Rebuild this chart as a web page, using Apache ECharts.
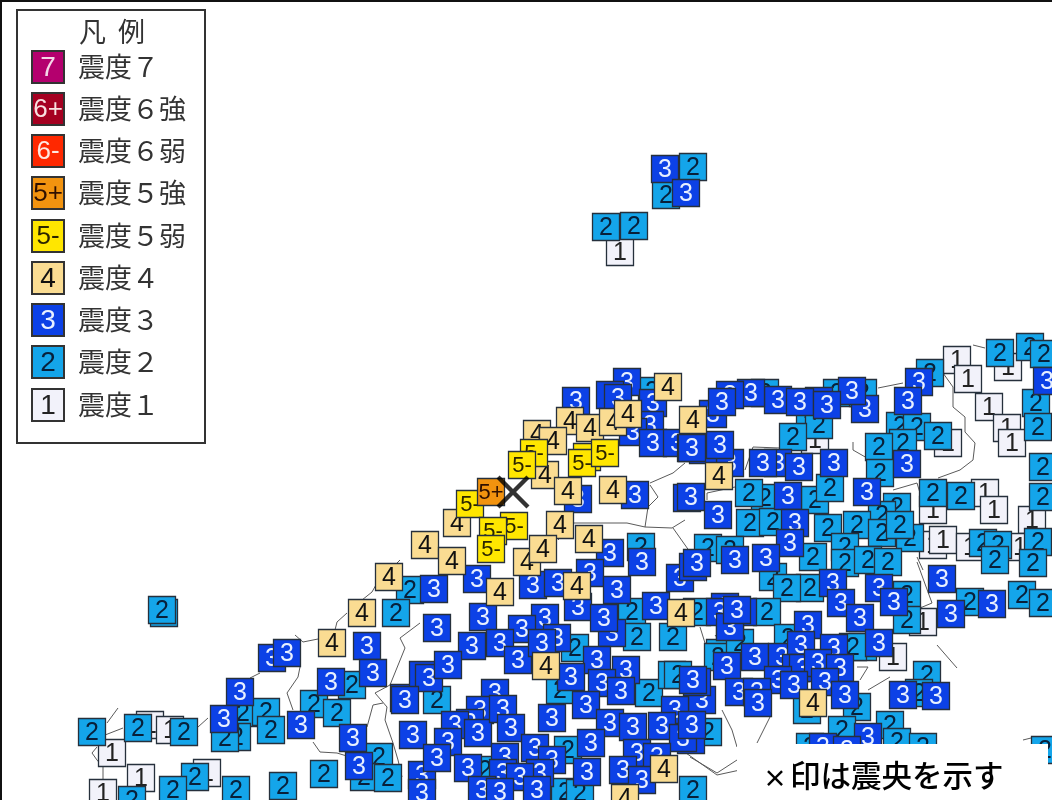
<!DOCTYPE html>
<html><head><meta charset="utf-8">
<style>html,body{margin:0;padding:0;background:#fff}#c{width:1052px;height:800px}</style>
<script src="https://cdn.jsdelivr.net/npm/echarts@6/dist/echarts.min.js"></script>
</head><body><div id="c"></div>
<script>
const legendTitle = '凡  例';
const legendCodes = ['7','6+','6-','5+','5-','4','3','2','1'];
const legendNames = ['震度７','震度６強','震度６弱','震度５強','震度５弱','震度４','震度３','震度２','震度１'];
const noteMark = '×';
const noteText = '印は震央を示す';
const epicenter = [[513,492]];

const level1 = [[620,252],[957,360],[968,379],[1008,367],[989,407],[815,440],[948,443],[1007,428],[1012,443],[985,493],[994,510],[933,510],[1032,520],[933,545],[943,540],[970,547],[1020,547],[923,622],[893,657],[150,725],[170,730],[112,753],[141,778],[207,773],[103,793]];
const level2 = [[693,167],[666,195],[606,227],[634,226],[164,613],[162,610],[1000,353],[1030,347],[1044,354],[930,373],[837,393],[863,393],[765,393],[652,391],[810,423],[819,425],[793,437],[900,426],[917,427],[903,443],[879,447],[938,436],[1036,403],[1038,427],[1043,467],[1043,497],[880,473],[765,498],[749,493],[815,500],[830,488],[933,493],[961,496],[897,507],[882,515],[828,528],[857,525],[882,533],[910,538],[900,525],[750,523],[773,522],[845,547],[813,557],[845,563],[868,560],[888,562],[983,543],[998,545],[995,560],[1038,542],[1033,563],[708,548],[730,550],[641,547],[410,590],[396,613],[352,685],[243,713],[266,712],[271,730],[237,737],[225,738],[314,704],[337,713],[379,757],[364,777],[388,778],[324,774],[283,786],[236,790],[195,777],[173,790],[92,732],[138,728],[184,732],[132,800],[632,612],[697,612],[673,637],[637,637],[575,648],[649,693],[672,675],[678,675],[720,653],[437,700],[560,690],[708,732],[568,750],[485,770],[565,792],[580,793],[693,790],[970,602],[1022,595],[1043,603],[810,588],[773,577],[787,588],[907,595],[907,620],[767,612],[863,647],[853,647],[718,657],[740,643],[788,638],[807,710],[857,707],[927,675],[919,693],[842,730],[890,725],[897,742],[923,747],[810,747],[1045,750]];
const level3 = [[665,169],[686,193],[576,401],[627,382],[610,395],[618,398],[653,403],[650,425],[633,432],[653,443],[677,443],[691,448],[635,495],[687,498],[578,499],[610,553],[642,562],[680,578],[693,567],[477,579],[434,589],[533,585],[558,583],[590,573],[617,590],[272,658],[287,653],[367,646],[331,682],[373,673],[240,692],[404,698],[224,719],[301,725],[353,738],[413,735],[359,766],[422,775],[919,382],[1047,381],[908,401],[865,409],[852,391],[819,401],[778,400],[751,393],[730,395],[713,414],[722,402],[800,402],[827,405],[907,464],[834,463],[778,463],[799,467],[763,463],[730,463],[703,450],[692,448],[720,445],[788,496],[691,497],[867,492],[718,515],[795,523],[790,543],[735,560],[766,558],[697,563],[942,579],[992,604],[833,583],[879,588],[894,602],[841,603],[860,618],[951,614],[879,643],[808,625],[743,612],[730,625],[725,607],[755,657],[727,666],[782,657],[801,645],[834,648],[796,668],[803,668],[818,663],[840,668],[778,680],[794,685],[825,682],[739,692],[757,692],[758,703],[702,700],[697,682],[845,695],[903,695],[936,696],[868,737],[823,747],[847,750],[691,740],[578,607],[612,633],[604,618],[656,606],[483,617],[545,618],[522,629],[437,628],[472,646],[500,643],[518,660],[557,638],[542,643],[597,660],[626,670],[571,677],[602,683],[621,691],[693,680],[720,612],[730,627],[737,610],[675,710],[423,675],[429,678],[448,665],[586,705],[552,718],[610,723],[633,727],[662,726],[683,738],[692,725],[591,743],[637,753],[623,770],[657,757],[642,780],[587,772],[405,700],[495,693],[480,710],[470,723],[455,725],[478,733],[503,709],[511,728],[448,742],[437,758],[468,768],[505,757],[503,773],[535,748],[552,760],[540,773],[520,777],[537,790],[482,790],[500,792],[422,793]];
const level4 = [[668,387],[570,421],[590,428],[613,422],[628,414],[537,434],[553,441],[693,420],[545,475],[568,491],[613,490],[457,523],[560,525],[589,539],[527,562],[543,549],[425,545],[452,561],[389,577],[500,592],[577,586],[362,613],[332,643],[719,476],[681,613],[546,666],[664,769],[625,798],[813,703]];
const level5m = [[587,457],[534,453],[522,465],[582,463],[605,453],[470,504],[514,526],[493,531],[491,549]];
const level5p = [[491,492]];

const borders = [
 [[400,560],[377,583],[372,592],[362,600]],[[347,613],[337,622],[335,630]],[[318,639],[303,642],[295,635]],[[300,667],[298,677],[287,693],[293,710]],[[260,673],[250,678]],[[208,718],[198,727]],[[123,728],[105,735]],[[118,708],[107,723]],[[97,747],[92,753],[97,760],[103,767],[103,780]],
 [[313,742],[320,752],[337,753],[350,757]],[[375,693],[387,707],[385,720],[393,743],[398,760],[402,777]],[[420,623],[400,638],[405,648],[390,685],[375,693]],[[367,727],[373,705],[383,703]],
 [[650,485],[658,497],[648,507],[645,527],[672,528],[685,520]],[[685,463],[673,473],[650,483]],[[573,523],[603,523],[627,523],[645,527]],[[558,540],[573,525]],[[673,528],[690,552]],
 [[735,487],[707,493],[707,500]],[[753,447],[745,470]],[[753,447],[780,448]],[[853,442],[853,450],[867,458]],[[878,388],[903,383]],[[943,373],[953,387],[953,407],[965,417],[965,432],[975,443],[973,460],[960,470],[938,478]],[[893,490],[917,483],[920,493]],[[973,345],[985,348]],[[917,557],[923,570]],
 [[937,645],[957,668]],[[917,562],[932,603],[920,608]],[[857,667],[868,667],[860,680]],[[890,677],[868,690]],[[770,717],[757,743]],[[690,757],[717,773],[737,760]],[[700,627],[705,643]],[[722,710],[732,730],[737,747]],[[1023,740],[1035,737]],[[690,550],[700,565]],[[715,635],[735,660]],[[686,753],[717,775],[740,770]]
];

const colors = {
  '7':['#b4006e','#f4d8e8'],'6+':['#a50021','#f8e0e0'],'6-':['#ff2800','#ffe8e0'],
  '5+':['#f2930f','#301000'],'5-':['#ffe600','#2a2400'],'4':['#fadc92','#111'],
  '3':['#0c41e6','#e8f0ff'],'2':['#14a5ea','#08203a'],'1':['#f2f2fa','#222']
};
const digitFont = '"Liberation Sans Narrow","Liberation Sans",Arial,sans-serif';

function marks(name, data, code, z, size){
  return {
    type:'custom', name, coordinateSystem:'cartesian2d', z, silent:true, clip:false,
    data, encode:{x:0,y:1},
    renderItem(params, api){
      const p = api.coord([api.value(0), api.value(1)]);
      const s = size;
      const fs = code.length>1 ? 22 : 25;
      return {type:'group', children:[
        {type:'rect', shape:{x:p[0]-s/2,y:p[1]-s/2,width:s,height:s},
         style:{fill:colors[code][0],stroke:'#26303c',lineWidth:1.3}},
        {type:'text', style:{x:p[0],y:p[1]+1,text:code,fill:colors[code][1],
          font:fs+'px '+digitFont,textAlign:'center',textVerticalAlign:'middle'}}
      ]};
    }
  };
}

const legendY = [67,109,151,193,236,278,320,362,405];
const legendData = legendCodes.map((c,i)=>[48,legendY[i],c,legendNames[i]]);

const series = [];
borders.forEach(b=>series.push({type:'line',data:b,symbol:'none',silent:true,z:1,
  lineStyle:{color:'#5a5a5a',width:1}}));
series.push(marks('震度1',level1,'1',2,27));
series.push(marks('震度2',level2,'2',3,27));
series.push(marks('震度3',level3,'3',4,27));
series.push(marks('震度4',level4,'4',5,27));
series.push(marks('震度5弱',level5m,'5-',6,27));
series.push(marks('震度5強',level5p,'5+',7,27));
series.push({type:'scatter',data:epicenter,z:8,silent:true,symbolSize:33,itemStyle:{color:'#000'},
  symbol:'path://M0,2.8L2.8,0L15,12.2L27.2,0L30,2.8L17.8,15L30,27.2L27.2,30L15,17.8L2.8,30L0,27.2L12.2,15Z'});
series.push({type:'custom',name:'凡例',z:21,silent:true,data:legendData,clip:false,encode:{x:0,y:1},
  renderItem(params,api){
    const p = api.coord([api.value(0),api.value(1)]);
    const c = legendData[params.dataIndex][2], n = legendData[params.dataIndex][3];
    return {type:'group',children:[
      {type:'rect',shape:{x:p[0]-16,y:p[1]-16,width:32,height:32},
       style:{fill:colors[c][0],stroke:'#333',lineWidth:2}},
      {type:'text',style:{x:p[0],y:p[1]+1,text:c,fill:colors[c][1],
        font:(c.length>1?26:28)+'px '+digitFont,textAlign:'center',textVerticalAlign:'middle'}},
      {type:'text',style:{x:78,y:p[1],text:n,fill:'#333',
        font:'27px "Noto Sans CJK JP",sans-serif',textAlign:'left',textVerticalAlign:'middle'}}
    ]};
  }});

const chart = echarts.init(document.getElementById('c'),null,{renderer:'canvas'});
chart.setOption({
  animation:false,
  backgroundColor:'#fff',
  grid:{left:0,right:0,top:0,bottom:0},
  xAxis:{type:'value',min:0,max:1052,show:false},
  yAxis:{type:'value',min:0,max:800,inverse:true,show:false},
  series,
  graphic:[
    {type:'line',z:30,shape:{x1:0,y1:1,x2:1052,y2:1},style:{stroke:'#111',lineWidth:2}},
    {type:'line',z:30,shape:{x1:1,y1:0,x2:1,y2:800},style:{stroke:'#111',lineWidth:2}},
    {type:'rect',z:20,shape:{x:17,y:10,width:188,height:433},style:{fill:'#fff',stroke:'#333',lineWidth:2}},
    {type:'text',z:22,style:{x:112,y:32,text:legendTitle,fill:'#333',font:'27px "Noto Sans CJK JP",sans-serif',textAlign:'center',textVerticalAlign:'middle'}},
    {type:'rect',z:25,shape:{x:737,y:744,width:311,height:56},style:{fill:'#fff'}},
    {type:'text',z:26,style:{x:763,y:778,text:noteMark,fill:'#000',font:'bold 24px "Noto Sans CJK JP",sans-serif',textAlign:'left',textVerticalAlign:'middle'}},
    {type:'text',z:26,style:{x:790,y:775,text:noteText,fill:'#000',font:'500 30.5px "Noto Sans CJK JP",sans-serif',textAlign:'left',textVerticalAlign:'middle'}}
  ]
});
</script></body></html>
